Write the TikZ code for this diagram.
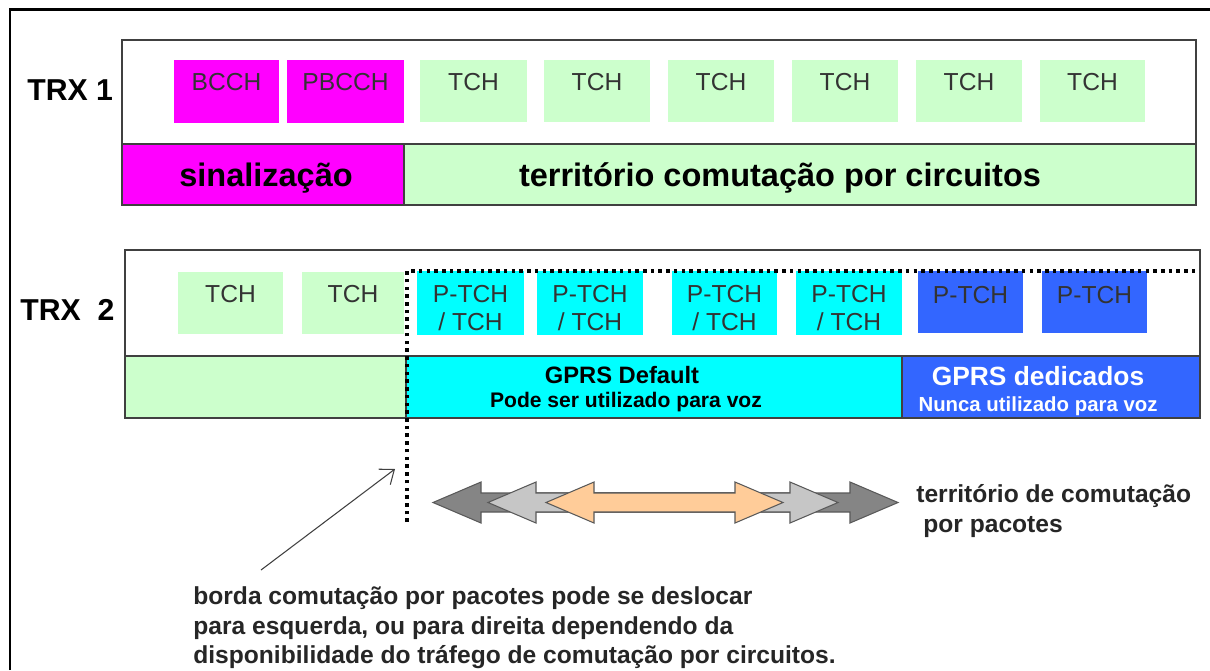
\documentclass[tikz,border=0pt]{standalone}
\usepackage{fontspec}
\setmainfont{Liberation Sans}
\usetikzlibrary{arrows.meta}
\definecolor{mag}{HTML}{FF00FF}
\definecolor{lgreen}{HTML}{CCFFCC}
\definecolor{cyanc}{HTML}{00FFFF}
\definecolor{bluec}{HTML}{3366FF}
\definecolor{peach}{HTML}{FFCC99}
\definecolor{dgray}{HTML}{858585}
\definecolor{lgray}{HTML}{C6C6C6}
\definecolor{edge}{HTML}{404040}
\definecolor{txt}{HTML}{333333}
\newcommand\mybox[6]{\node[box,fill=#6,minimum width={(#4-#2)*0.02cm},minimum height={(#5-#3)*0.02cm}] (#1) at (#2,#3) {};}
\newcommand\mybandbox[6]{\node[box,frame,fill=#6,minimum width={(#4-#2)*0.02cm},minimum height={(#5-#3)*0.02cm}] (#1) at (#2,#3) {};}
\newcommand\dblarr[3]{\filldraw[dbl,fill=#3] (#1,502.5) -- (#1+48,482) -- (#1+48,493) -- (#2-48,493) -- (#2-48,482) -- (#2,502.5) -- (#2-48,523) -- (#2-48,512) -- (#1+48,512) -- (#1+48,523) -- cycle;}
\begin{document}
\begin{tikzpicture}[x=0.02cm,y=-0.02cm,
  box/.style={inner sep=0pt,outer sep=0pt,anchor=north west,draw=none},
  frame/.style={draw=edge,line width=0.8pt},
  slottxt/.style={font=\fontsize{14}{15.9}\selectfont,text=txt,inner sep=0pt,align=center},
  bandtxt/.style={font=\bfseries\fontsize{18.5}{20}\selectfont,inner sep=0pt,anchor=base},
  gprstxt/.style={font=\bfseries\fontsize{13.5}{16}\selectfont,inner sep=0pt,anchor=base},
  gprssub/.style={font=\bfseries\fontsize{12}{14}\selectfont,inner sep=0pt,anchor=base},
  lbl/.style={font=\bfseries\fontsize{17.2}{20}\selectfont,inner sep=0pt,anchor=base west},
  note/.style={font=\bfseries\fontsize{14}{17}\selectfont,inner sep=0pt,anchor=base west,text=black!85},
  border/.style={black,line width=2pt,dash pattern=on 2pt off 2.4pt},
  dbl/.style={line width=0.6pt,draw=black!65}
]
\useasboundingbox (0,0) rectangle (1210,670);
\fill[white] (0,0) rectangle (1210,670);
% outer frame
\draw[black,line width=1.7pt] (10,670) -- (10,9.5) -- (1210,9.5);

% ---------- TRX 1 ----------
\node[box,frame,fill=white,minimum width={(1196-122)*0.02cm},minimum height={(144-40)*0.02cm}] (trx1) at (122,40) {};
\mybox{bcch}{174}{60}{279}{123}{mag}
\mybox{pbcch}{287}{60}{404}{123}{mag}
\mybox{ta}{420}{60}{527}{122}{lgreen}
\mybox{tb}{544}{60}{650}{122}{lgreen}
\mybox{tc}{668}{60}{774}{122}{lgreen}
\mybox{td}{792}{60}{898}{122}{lgreen}
\mybox{te}{916}{60}{1022}{122}{lgreen}
\mybox{tf}{1040}{60}{1145}{122}{lgreen}
\mybandbox{sig}{122}{144}{404}{205}{mag}
\mybandbox{circ}{404}{144}{1196}{205}{lgreen}

\node[slottxt,anchor=base] (bcchT) at (226.5,90) {BCCH};
\node[slottxt,anchor=base] (pbcchT) at (345.5,90) {PBCCH};
\node[slottxt,anchor=base] (taT) at (473.5,90) {TCH};
\node[slottxt,anchor=base] (tbT) at (597,90) {TCH};
\node[slottxt,anchor=base] (tcT) at (721,90) {TCH};
\node[slottxt,anchor=base] (tdT) at (845,90) {TCH};
\node[slottxt,anchor=base] (teT) at (969,90) {TCH};
\node[slottxt,anchor=base] (tfT) at (1092.5,90) {TCH};
\node[bandtxt] (sigT) at (266,186) {sinalização};
\node[bandtxt] (circT) at (780,186) {território comutação por circuitos};
\node[lbl] (trx1T) at (27,100) {TRX 1};

% ---------- TRX 2 ----------
\node[box,frame,fill=white,minimum width={(1200-125)*0.02cm},minimum height={(356-250)*0.02cm}] (trx2) at (125,250) {};
\mybox{ua}{178}{272}{283}{334}{lgreen}
\mybox{ub}{302}{272}{404}{334}{lgreen}
\mybox{pa}{417}{271}{524}{335}{cyanc}
\mybox{pb}{537}{271}{643}{335}{cyanc}
\mybox{pc}{672}{271}{777}{335}{cyanc}
\mybox{pd}{796}{271}{902}{335}{cyanc}
\mybox{qa}{918}{271}{1023}{333}{bluec}
\mybox{qb}{1042}{271}{1147}{333}{bluec}
\mybandbox{cs2}{125}{356}{406}{418}{lgreen}
\mybandbox{gdef}{406}{356}{902}{418}{cyanc}
\mybandbox{gded}{902}{356}{1200}{418}{bluec}

\node[slottxt,anchor=base] (uaT) at (230.5,302) {TCH};
\node[slottxt,anchor=base] (ubT) at (353,302) {TCH};
\node[slottxt] (paT) at (470.5,308) {P-TCH\\/ TCH};
\node[slottxt] (pbT) at (590,308) {P-TCH\\/ TCH};
\node[slottxt] (pcT) at (724.5,308) {P-TCH\\/ TCH};
\node[slottxt] (pdT) at (849,308) {P-TCH\\/ TCH};
\node[slottxt,anchor=base] (qaT) at (970.5,303) {P-TCH};
\node[slottxt,anchor=base] (qbT) at (1094.5,303) {P-TCH};
\node[gprstxt] (gdefT) at (622,383) {GPRS Default};
\node[gprssub] (gdefS) at (626,407) {Pode ser utilizado para voz};
\node[gprstxt,text=white,font=\bfseries\fontsize{15}{17}\selectfont] (gdedT) at (1038,385) {GPRS dedicados};
\node[gprssub,text=white,font=\bfseries\fontsize{11.6}{14}\selectfont] (gdedS) at (1038,411) {Nunca utilizado para voz};
\node[lbl] (trx2T) at (20,320) {TRX\ \ 2};

% ---------- packet border (dotted) ----------
\coordinate (bTop) at (407,271);
\coordinate (bBot) at (407,522);
\coordinate (bRight) at (1198,271);
\draw[border] (bBot) -- (bTop) -- (bRight);

% ---------- double arrows ----------
\dblarr{433}{898}{dgray}
\dblarr{488}{838}{lgray}
\dblarr{546}{783}{peach}

\node[note] (pkt1) at (916,502) {território de comutação};
\node[note] (pkt2) at (923,532) {por pacotes};

% ---------- pointer and note ----------
\coordinate (ptrTail) at (261,570);
\coordinate (ptrHead) at (395,469);
\draw[black!75,line width=0.6pt,-{Straight Barb[length=7pt,width=11pt]}] (ptrTail) -- (ptrHead);

\node[note] (n1) at (193,604) {borda comutação por pacotes pode se deslocar};
\node[note] (n2) at (193,634) {para esquerda, ou para direita dependendo da};
\node[note] (n3) at (193,663) {disponibilidade do tráfego de comutação por circuitos.};
\end{tikzpicture}
\end{document}
